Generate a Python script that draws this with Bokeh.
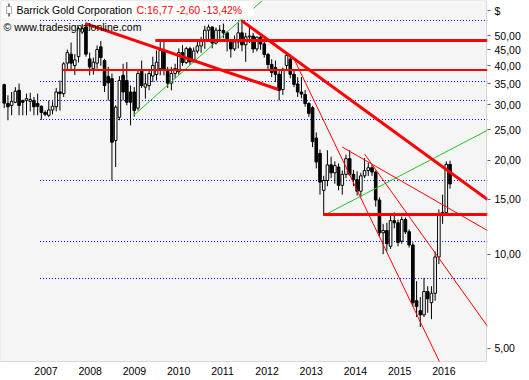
import math
from bokeh.plotting import figure
from bokeh.models import Range1d, FixedTicker, Label, BoxAnnotation, CustomJSTickFormatter
from bokeh.embed import file_html
from bokeh.resources import INLINE

# ---------------- data (monthly candles, May 2006 .. May 2016) ----------------
opens = [34.8, 30.3, 29.9, 30.6, 33.4, 31.0, 31.0, 30.8, 31.0, 30.3,
         29.7, 28.4, 27.8, 28.9, 29.6, 33.0, 32.6, 40.8, 43.6, 40.1,
         42.8, 51.3, 53.2, 42.1, 39.2, 40.8, 46.0, 41.6, 37.0, 36.4,
         23.1, 27.4, 37.3, 35.9, 33.0, 33.0, 29.3, 38.7, 34.2, 34.6,
         37.1, 37.5, 39.2, 44.8, 38.7, 35.2, 37.8, 38.3, 44.1, 41.0,
         45.4, 41.2, 44.6, 46.3, 48.1, 52.0, 53.2, 47.3, 52.0, 51.9,
         51.0, 47.9, 45.3, 47.7, 51.0, 46.7, 49.5, 49.8, 45.3, 49.4,
         47.0, 43.5, 40.4, 39.5, 37.6, 33.6, 40.1, 42.0, 37.6, 35.0,
         33.0, 32.4, 30.3, 29.4, 23.5, 21.0, 16.0, 17.2, 19.3, 18.2,
         19.0, 16.6, 18.0, 20.2, 18.0, 17.3, 15.9, 17.8, 18.5, 18.9,
         18.3, 14.9, 11.7, 11.9, 10.6, 12.8, 12.6, 11.0, 12.9, 11.8,
         10.7, 7.1, 6.6, 6.4, 7.6, 7.0, 7.5, 9.8, 13.3, 13.6,
         19.37]
highs = [35.1, 32.2, 33.0, 34.2, 35.1, 31.2, 32.6, 32.8, 31.8, 32.6,
         29.9, 28.8, 31.0, 30.8, 34.0, 35.9, 41.1, 45.1, 47.5, 43.6,
         53.2, 54.4, 55.0, 44.1, 42.5, 46.5, 48.0, 42.1, 39.7, 37.8,
         29.9, 37.1, 40.6, 41.1, 34.6, 34.2, 38.7, 41.6, 37.8, 38.7,
         42.8, 44.8, 48.2, 48.2, 39.7, 39.7, 40.6, 45.5, 46.6, 46.0,
         46.0, 45.8, 47.8, 49.5, 53.7, 54.2, 53.5, 53.0, 54.0, 54.6,
         51.6, 48.5, 50.0, 55.0, 55.9, 51.0, 53.7, 51.0, 49.6, 50.5,
         47.8, 44.0, 42.0, 41.6, 38.5, 39.5, 43.8, 43.5, 38.7, 36.8,
         36.8, 33.5, 30.6, 29.8, 24.5, 21.6, 17.8, 21.5, 20.5, 19.8,
         19.5, 18.5, 20.8, 21.5, 18.6, 18.4, 18.2, 20.3, 19.6, 19.3,
         18.5, 15.2, 12.5, 12.6, 13.5, 13.6, 12.9, 13.2, 13.1, 12.0,
         10.9, 8.2, 7.3, 8.4, 7.9, 7.9, 10.2, 13.9, 15.5, 19.8,
         19.9]
lows = [29.3, 26.8, 27.8, 30.4, 27.8, 27.8, 27.8, 28.6, 27.8, 27.8,
        26.9, 27.6, 27.4, 28.0, 28.6, 28.8, 31.8, 38.7, 38.5, 37.4,
        41.0, 50.6, 42.8, 37.3, 37.5, 39.2, 40.0, 33.0, 31.0, 17.2,
        19.0, 26.8, 31.0, 29.9, 25.8, 27.5, 28.8, 34.0, 31.4, 33.4,
        35.5, 35.9, 37.3, 37.3, 34.0, 33.4, 36.5, 37.5, 40.0, 40.5,
        40.3, 41.0, 43.8, 44.0, 45.3, 48.5, 45.5, 46.8, 48.2, 49.0,
        44.5, 42.5, 44.6, 45.5, 44.5, 41.2, 47.3, 44.0, 44.5, 45.0,
        42.5, 39.0, 36.8, 35.5, 31.0, 32.3, 38.5, 36.5, 34.2, 31.8,
        31.5, 29.6, 27.5, 22.0, 18.8, 15.5, 13.3, 16.5, 17.5, 16.8,
        16.0, 15.5, 17.5, 17.8, 16.5, 15.4, 15.3, 17.5, 17.8, 17.8,
        14.2, 11.4, 10.0, 10.2, 10.4, 12.1, 10.6, 10.8, 11.6, 10.5,
        6.8, 6.3, 5.85, 6.3, 6.5, 6.2, 7.1, 9.3, 12.5, 13.3,
        16.2]
closes = [30.4, 29.6, 30.8, 33.2, 29.9, 30.6, 31.4, 31.2, 29.6, 29.7,
          28.4, 28.0, 28.9, 29.7, 33.0, 32.6, 40.6, 44.1, 40.8, 41.8,
          52.6, 52.6, 43.6, 39.7, 41.1, 45.1, 42.5, 34.6, 35.3, 22.8,
          29.5, 35.9, 33.0, 30.6, 30.6, 28.8, 37.8, 34.6, 35.0, 37.8,
          40.1, 41.1, 44.8, 38.7, 35.2, 37.8, 39.2, 44.1, 41.0, 45.4,
          41.2, 44.6, 46.3, 48.1, 52.0, 53.2, 47.3, 52.0, 51.9, 51.0,
          47.9, 45.3, 47.7, 51.0, 46.7, 49.5, 49.8, 45.3, 49.4, 47.0,
          43.5, 40.4, 38.1, 37.6, 33.4, 39.0, 43.2, 37.6, 34.9, 33.0,
          32.5, 30.3, 28.2, 22.9, 19.7, 17.0, 17.2, 19.3, 18.2, 19.2,
          16.6, 18.0, 20.2, 18.0, 17.3, 15.9, 17.8, 18.5, 18.9, 18.3,
          14.9, 11.7, 11.9, 10.8, 12.8, 12.6, 10.9, 12.9, 11.8, 10.7,
          7.0, 6.8, 6.4, 7.6, 7.2, 7.5, 9.8, 13.5, 13.6, 19.37,
          16.77]

years = ["2007", "2008", "2009", "2010", "2011", "2012", "2013", "2014", "2015", "2016"]
price_ticks = [5, 10, 15, 20, 25, 30, 35, 40, 45, 50]

# drawn lines: start/end month index (0 = May 2006) and price
red_heavy_x0 = [21.9, 63.9, 40.7, 85.9]
red_heavy_p0 = [54.6, 55.8, 48.20, 13.39]
red_heavy_x1 = [73.8, 130.1, 130.1, 130.1]
red_heavy_p1 = [33.6, 14.96, 48.20, 13.39]

red_mid_x0 = [15.7]
red_mid_p0 = [38.80]
red_mid_x1 = [130.1]
red_mid_p1 = [38.80]

red_thin_x0 = [77.8, 91.0, 97.0]
red_thin_p0 = [42.6, 22.0, 20.9]
red_thin_x1 = [118.5, 130.1, 130.1]
red_thin_p1 = [4.2, 11.9, 5.88]

green_x0 = [34.9, 86.0]
green_p0 = [27.8, 13.3]
green_x1 = [69.5, 130.1]
green_p1 = [64.7, 24.9]

support_levels = [55.84, 35.64, 30.99, 26.95, 17.20, 10.98, 8.36]
support_start = 9.632
support_end = 130.1

# ---------------- geometry helpers (for frame decoration / annotations) ----------------
PLOT_W, PLOT_H = 487, 361          # chart area inside the grey box
X_START, PX_PER_MONTH = -1.0, 3.715
Y_TOP, Y_BOT = 64.7, 4.54          # prices at the top / bottom edge of the grey box
LT, LB = math.log10(Y_TOP), math.log10(Y_BOT)


def dx(px):
    return X_START + px / PX_PER_MONTH


def dy(py):
    return 10 ** (LT - py / PLOT_H * (LT - LB))


FONT = "Liberation Sans"
FS = "10.5px"

p = figure(width=529, height=380, y_axis_type="log", y_axis_location="right",
           x_axis_location=None,
           x_range=Range1d(dx(0), dx(PLOT_W)), y_range=Range1d(dy(380), Y_TOP),
           output_backend="svg", toolbar_location=None)
p.min_border_left = 0
p.min_border_top = 0
p.min_border_right = 42
p.min_border_bottom = 0
p.background_fill_color = "white"
p.border_fill_color = "white"
p.outline_line_color = None
p.xgrid.visible = False
p.ygrid.visible = False

# grey chart area
p.add_layout(BoxAnnotation(left=dx(0), right=dx(PLOT_W), top=dy(0), bottom=dy(PLOT_H),
                           fill_color="#f5f5f5", fill_alpha=1.0, line_color=None, level="underlay"))

# right price axis (the "$" unit sits at the top of it)
ya = p.yaxis[0]
ya.ticker = FixedTicker(ticks=price_ticks + [dy(10)], minor_ticks=[])
ya.formatter = CustomJSTickFormatter(
    code="return tick > 55 ? '$' : tick.toFixed(2).replace('.', ',');")
ya.axis_line_color = None
ya.major_tick_in = 0
ya.major_tick_out = 3
ya.major_tick_line_color = "#606060"
ya.minor_tick_line_color = None
ya.major_label_standoff = 4
ya.major_label_text_font = FONT
ya.major_label_text_font_size = FS
ya.major_label_text_color = "black"

# support lines (blue dotted)
n_sup = len(support_levels)
p.segment(x0=[support_start] * n_sup, y0=support_levels, x1=[support_end] * n_sup, y1=support_levels,
          line_color="#0000ff", line_width=1, line_dash="1 2")

# candles
idx = list(range(len(opens)))
p.segment(x0=idx, y0=lows, x1=idx, y1=highs, line_color="black", line_width=1)
up = [i for i in idx if closes[i] >= opens[i]]
dn = [i for i in idx if closes[i] < opens[i]]
p.vbar(x=up, width=0.7, top=[closes[i] for i in up], bottom=[opens[i] for i in up],
       fill_color="white", line_color="black", line_width=1)
p.vbar(x=dn, width=0.7, top=[opens[i] for i in dn], bottom=[closes[i] for i in dn],
       fill_color="black", line_color="black", line_width=1)

# trend lines
p.segment(x0=green_x0, y0=green_p0, x1=green_x1, y1=green_p1, line_color="#22c422", line_width=1)
p.segment(x0=red_thin_x0, y0=red_thin_p0, x1=red_thin_x1, y1=red_thin_p1, line_color="#ff0000", line_width=1)
p.segment(x0=red_mid_x0, y0=red_mid_p0, x1=red_mid_x1, y1=red_mid_p1, line_color="#ff0000", line_width=2)
p.segment(x0=red_heavy_x0, y0=red_heavy_p0, x1=red_heavy_x1, y1=red_heavy_p1, line_color="#ff0000", line_width=3)

# white strip below the chart area (covers lines running past the bottom edge)
p.add_layout(BoxAnnotation(left=dx(0), right=dx(PLOT_W), top=dy(PLOT_H), bottom=dy(380),
                           fill_color="white", fill_alpha=1.0, line_color=None))
# chart border
p.add_layout(BoxAnnotation(left=dx(0), right=dx(PLOT_W - 1), top=dy(0), bottom=dy(PLOT_H),
                           fill_color=None, line_color="#8c8c8c", line_width=1))

# year ticks and labels (label left-aligned just right of its tick)
year_ticks = [8 + 12 * k - 0.3 - 0.1 * k for k in range(len(years))]
n_y = len(year_ticks)
p.segment(x0=year_ticks, y0=[dy(363)] * n_y, x1=year_ticks, y1=[dy(368)] * n_y,
          line_color="#303030", line_width=1)
for t, yr in zip(year_ticks, years):
    p.add_layout(Label(x=t + 1.5 / PX_PER_MONTH, y=dy(366), text=yr, text_font=FONT,
                       text_font_size=FS, text_baseline="top", text_align="left", text_color="black"))

# title box
p.add_layout(BoxAnnotation(left=dx(1), right=dx(253), top=dy(1), bottom=dy(18),
                           fill_color="white", fill_alpha=1.0, line_color=None))
p.add_layout(BoxAnnotation(left=dx(8), right=dx(9), top=dy(3), bottom=dy(16),
                           fill_color="black", fill_alpha=1.0, line_color=None))
p.add_layout(BoxAnnotation(left=dx(6), right=dx(11), top=dy(6), bottom=dy(13),
                           fill_color="white", fill_alpha=1.0, line_color="black", line_width=1))
p.add_layout(Label(x=dx(16), y=dy(9.5), text="Barrick Gold Corporation", text_font=FONT,
                   text_font_size=FS, text_baseline="middle", text_color="black"))
p.add_layout(Label(x=dx(136), y=dy(9.5), text="C:16,77 -2,60 -13,42%", text_font=FONT,
                   text_font_size=FS, text_baseline="middle", text_color="#ff0000"))
p.add_layout(Label(x=dx(3), y=dy(26.5), text="\u00a9 www.tradesignalonline.com", text_font=FONT,
                   text_font_size=FS, text_baseline="middle", text_color="black"))

open("out.html", "w").write(file_html(p, INLINE))
